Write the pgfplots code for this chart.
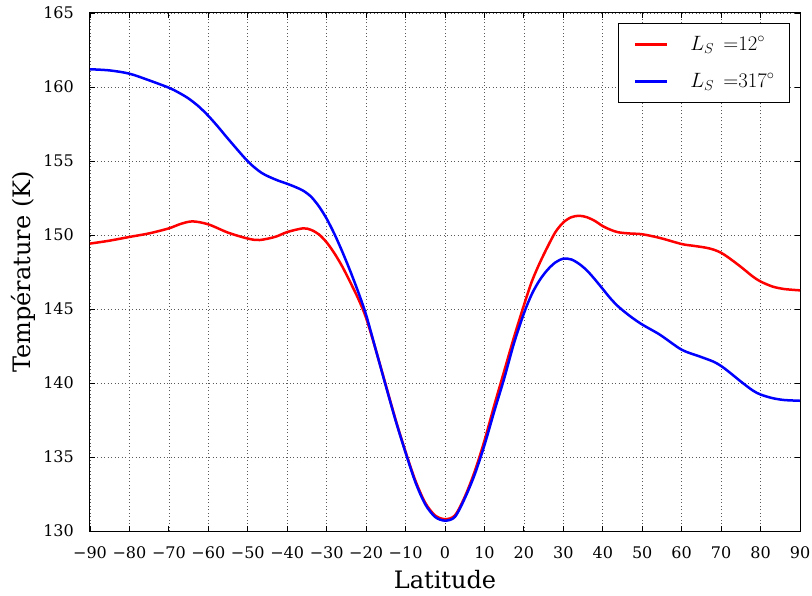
\documentclass[border=0pt]{standalone}
\usepackage{pgfplots}
\pgfplotsset{compat=1.18}
\usepackage{fontspec}
\setmainfont{DejaVu Serif}
\begin{document}
\begin{tikzpicture}
\begin{axis}[
  scale only axis,
  width=710pt, height=518pt,
  xmin=-90, xmax=90, ymin=130, ymax=165,
  xtick={-90,-80,...,90},
  xticklabels={−90,−80,−70,−60,−50,−40,−30,−20,−10,0,10,20,30,40,50,60,70,80,90},
  ytick={130,135,...,165},
  yticklabels={130,135,140,145,150,155,160,165},
  tick align=inside,
  major tick length=5pt,
  tick style={black, line width=0.8pt},
  axis line style={black, line width=1pt},
  grid=major,
  major grid style={black!65, line width=0.6pt, dash pattern=on 1pt off 2.5pt},
  tick label style={font=\fontsize{16}{19}\selectfont},
  xticklabel style={anchor=base, inner sep=0pt, yshift=-27pt},
  yticklabel style={anchor=east, inner sep=0pt, xshift=-16pt},
  xlabel={Latitude},
  ylabel={Température (K)},
  label style={font=\fontsize{24}{28}\selectfont},
  xlabel style={at={(rel axis cs:0.5,0)}, anchor=base, yshift=-57pt},
  ylabel style={at={(rel axis cs:0,0.5)}, anchor=center, yshift=67pt},
  legend style={at={(0.986,0.981)}, anchor=north east, draw=black, line width=1pt,
    font=\fontsize{20}{24}\selectfont, inner xsep=15pt, inner ysep=11pt,
    row sep=17pt, column sep=22pt,
    nodes={inner sep=0pt, text height=16pt, text depth=4pt}},
  legend cell align=left,
  legend image code/.code={\draw[#1, line width=2.5pt] (0pt,0pt) -- (32pt,0pt);},
]
\addplot[red, line width=2.5pt, smooth] coordinates {
(-90,149.42) (-85,149.62) (-80,149.87) (-75,150.11) (-70,150.45) (-67,150.75) (-64,150.92)
(-60,150.72) (-55,150.16) (-50,149.76) (-47,149.66) (-43,149.88) (-40,150.2) (-36,150.45)
(-34,150.35) (-32,150.05) (-30,149.5) (-28,148.75) (-26,147.85) (-24,146.8) (-22,145.7)
(-20,144.4) (-17.5,142.2) (-15,139.85) (-12.5,137.5) (-10,135.35) (-7.5,133.4) (-5,131.9)
(-2.5,131.05) (0,130.8) (2.5,131.05) (5,132.3) (7.5,134.0) (10,136.1) (12.5,138.5) (15,140.8)
(17.5,143.1) (20,145.25) (22,146.85) (24,148.1) (26,149.2) (28,150.2) (30,150.85)
(32,151.2) (34,151.3) (36,151.2) (38,150.95) (40,150.6) (42,150.35) (44,150.18)
(47,150.1) (50,150.05) (54.5,149.8) (60,149.39) (63,149.27) (66,149.15) (68,149.02)
(70,148.8) (72,148.45) (75,147.85) (78,147.2) (80,146.86) (83,146.52) (86,146.35) (90,146.26)
};
\addlegendentry{$L_S\;\,{=}12^{\circ}$}
\addplot[blue, line width=2.5pt, smooth] coordinates {
(-90,161.2) (-85,161.12) (-80,160.9) (-75,160.45) (-70,159.95) (-67.5,159.62) (-65,159.22)
(-62.5,158.7) (-60,158.05) (-57.5,157.3) (-55,156.5) (-50,154.98) (-46.5,154.2) (-43,153.75)
(-40,153.46) (-38,153.25) (-36,153.0)
(-34,152.6) (-32,151.95) (-30,151.1) (-28,150.05) (-26,148.85) (-24,147.55) (-22,146.15)
(-20,144.6) (-17.5,142.2) (-15,139.8) (-12.5,137.45) (-10,135.3) (-7.5,133.3) (-5,131.8)
(-2.5,130.95) (0,130.7) (2.5,130.95) (5,132.2) (7.5,133.8) (10,135.8) (12.5,138.1) (15,140.3)
(17.5,142.7) (20,144.7) (22,146.0) (24,146.95) (26,147.65) (28,148.15) (30,148.4)
(32,148.35) (34,148.05) (36,147.6) (38,147.0) (40,146.35) (42,145.7) (44,145.15)
(47,144.5) (50,143.95) (54.5,143.26) (60,142.25) (64.5,141.8) (68,141.45) (70,141.15)
(72,140.75) (75,140.1) (78,139.5) (80,139.22) (83,138.98) (86,138.85) (90,138.8)
};
\addlegendentry{$L_S\;\,{=}317^{\circ}$}
\end{axis}
\path (current axis.south west) ++(-90pt,-64pt);
\path (current axis.north east) ++(12pt,13pt);
\end{tikzpicture}
\end{document}
